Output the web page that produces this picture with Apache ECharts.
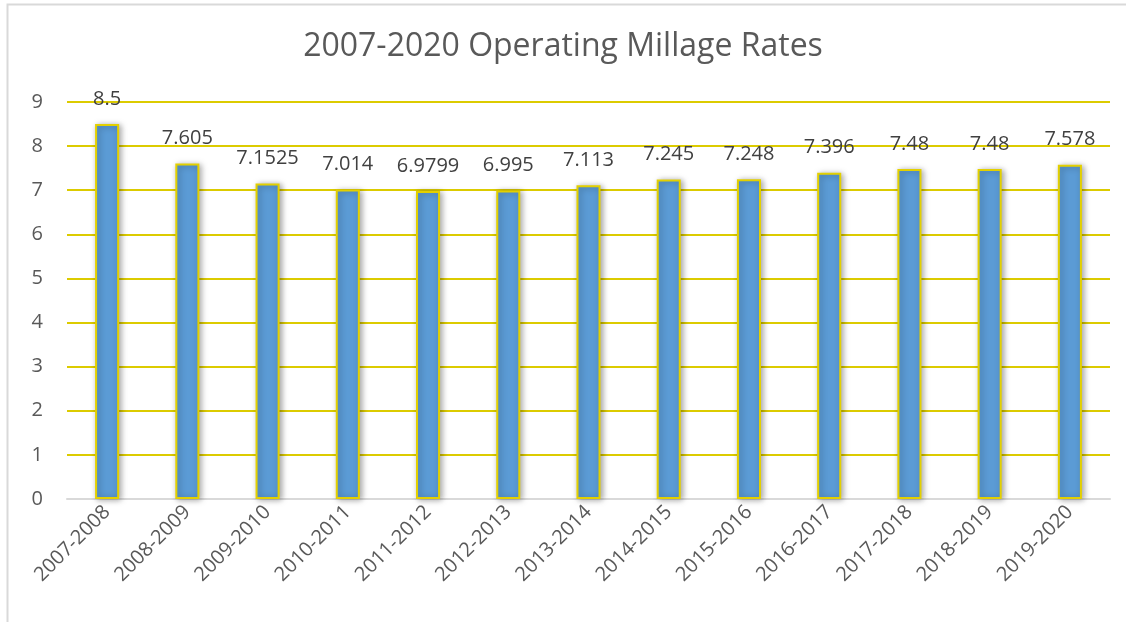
<!DOCTYPE html>
<html><head><meta charset="utf-8">
<script src="https://cdn.jsdelivr.net/npm/echarts@6/dist/echarts.min.js"></script>
<style>html,body{margin:0;padding:0;background:#fff}#c{width:1126px;height:622px}</style>
</head><body><div id="c"></div>
<script>
const categories = ['2007-2008','2008-2009','2009-2010','2010-2011','2011-2012','2012-2013','2013-2014','2014-2015','2015-2016','2016-2017','2017-2018','2018-2019','2019-2020'];
const rates = [8.5, 7.605, 7.1525, 7.014, 6.9799, 6.995, 7.113, 7.245, 7.248, 7.396, 7.48, 7.48, 7.578];
const rateLabels = ['8.5','7.605','7.1525','7.014','6.9799','6.995','7.113','7.245','7.248','7.396','7.48','7.48','7.578'];
const yTicks = [0,1,2,3,4,5,6,7,8,9];
const FONT = '"Open Sans", "Liberation Sans", sans-serif';
const chart = echarts.init(document.getElementById('c'));
chart.setOption({
  animation: false,
  textStyle: {fontFamily: FONT},
  graphic: [{type:'rect', shape:{x:7.5,y:4.5,width:1130,height:640}, style:{fill:'none', stroke:'#d9d9d9', lineWidth:2}, silent:true}],
  title: {text: '2007-2020 Operating Millage Rates', left: 'center', top: 26,
    textStyle: {fontFamily: FONT, fontSize: 32, fontWeight: 'normal', color: '#595959'}},
  grid: {left: 67, right: 16, top: 102, bottom: 123},
  xAxis: {type: 'category', data: categories,
    axisLine: {lineStyle: {color: '#d9d9d9', width: 2}},
    axisTick: {show: false},
    axisLabel: {rotate: 45, fontSize: 20, color: '#595959', margin: 10, fontFamily: FONT}},
  yAxis: {type: 'value', min: yTicks[0], max: yTicks[yTicks.length-1], interval: 1,
    axisLine: {show: false}, axisTick: {show: false},
    axisLabel: {fontSize: 20, color: '#595959', margin: 24, fontFamily: FONT},
    splitLine: {lineStyle: {color: '#DCCB00', width: 2}}},
  series: [{type: 'bar', data: rates, barWidth: '30%',
    itemStyle: {color: '#5B9BD5', borderColor: '#E3D000', borderWidth: 2,
      shadowColor: 'rgba(0,0,0,0.35)', shadowBlur: 6, shadowOffsetX: 2, shadowOffsetY: 1},
    label: {show: true, position: 'top', distance: 15, fontSize: 20, color: '#404040', fontFamily: FONT,
      formatter: p => rateLabels[p.dataIndex]}}]
});
</script></body></html>
